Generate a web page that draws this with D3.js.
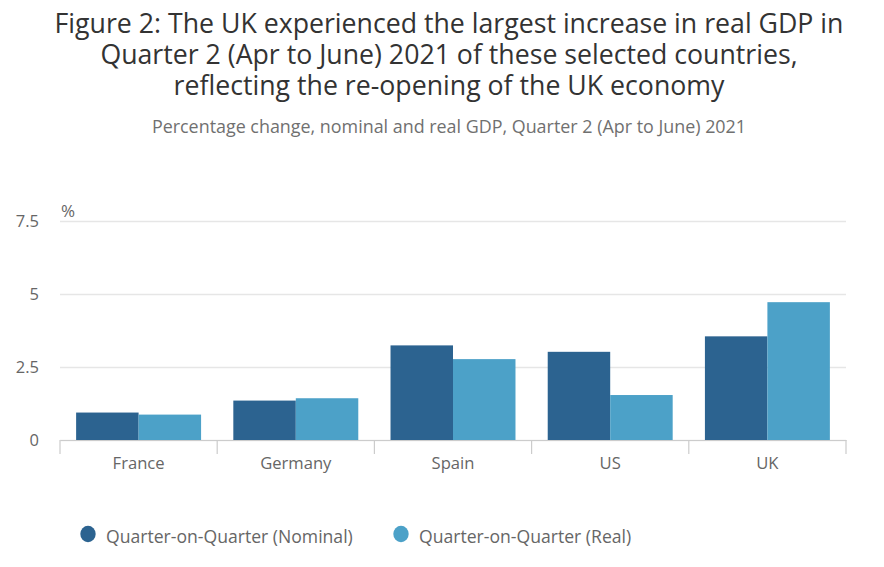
<!DOCTYPE html>
<html><head><meta charset="utf-8">
<script src="https://cdn.jsdelivr.net/npm/d3@7"></script>
<style>body{margin:0;background:#fff;}svg{display:block;font-family:"Open Sans",sans-serif;}</style>
</head><body><svg id="c" width="884" height="567"></svg>
<script>
const countries = ["France","Germany","Spain","US","UK"];
const seriesNames = ["Quarter-on-Quarter (Nominal)","Quarter-on-Quarter (Real)"];
const nominal = [0.94, 1.35, 3.24, 3.02, 3.55];
const real = [0.87, 1.43, 2.77, 1.54, 4.72];
const yTicks = [0, 2.5, 5, 7.5];
const colors = ["#2c6390","#4ca1c8"];
const titleLines = ["Figure 2: The UK experienced the largest increase in real GDP in","Quarter 2 (Apr to June) 2021 of these selected countries,","reflecting the re-opening of the UK economy"];
const subtitle = "Percentage change, nominal and real GDP, Quarter 2 (Apr to June) 2021";

const svg = d3.select("#c");
const m = {l:60, r:38};
const W = 884;
const x0 = d3.scaleBand().domain(countries).range([m.l, W-m.r]).padding(0);
const x1 = d3.scaleBand().domain([0,1]).range([0, x0.bandwidth()]).paddingInner(0).paddingOuter(0.258);
const y = d3.scaleLinear().domain([0,7.5]).range([440, 221]);

const title = svg.append("text").attr("text-anchor","middle")
  .attr("font-size",26.7).attr("fill","#333");
title.selectAll("tspan").data(titleLines).join("tspan")
  .attr("x", 449).attr("y",(d,i)=>33.3+i*31).text(d=>d);
svg.append("text").attr("x",449).attr("y",132.5).attr("text-anchor","middle")
  .attr("font-size",17.9).attr("fill","#707070").text(subtitle);

// grid
const yAxis = d3.axisLeft(y).tickValues(yTicks).tickFormat(d=>d).tickSize(-(W-m.l-m.r)).tickPadding(21);
const gy = svg.append("g").attr("transform",`translate(${m.l},0)`).call(yAxis);
gy.select(".domain").remove();
gy.selectAll(".tick line").attr("stroke","#e6e6e6").attr("stroke-width",1.5);
gy.selectAll(".tick text").attr("font-size",16.5).attr("fill","#666").attr("font-family","Open Sans, sans-serif");
svg.append("text").attr("x",61).attr("y",217).attr("font-size",17).attr("fill","#666").text("%");

// bars
const data = countries.map((c,i)=>({c, v:[nominal[i], real[i]]}));
const g = svg.append("g").selectAll("g").data(data).join("g").attr("transform",d=>`translate(${x0(d.c)},0)`);
g.selectAll("rect").data(d=>d.v.map((v,k)=>({v,k}))).join("rect")
  .attr("x",d=>x1(d.k)).attr("width",x1.bandwidth())
  .attr("y",d=>y(d.v)).attr("height",d=>y(0)-y(d.v)).attr("fill",d=>colors[d.k]);

// x axis
const xAxis = d3.axisBottom(x0).tickSize(0).tickPadding(17.5);
const gx = svg.append("g").attr("transform",`translate(0,440)`).call(xAxis);
gx.select(".domain").attr("stroke","#ccc").attr("stroke-width",1.2);
gx.selectAll(".tick text").attr("font-size",16.6).attr("fill","#666").attr("font-family","Open Sans, sans-serif");
const bounds = countries.map(c=>x0(c)).concat([x0(countries[countries.length-1])+x0.bandwidth()]);
svg.append("g").selectAll("line").data(bounds).join("line")
  .attr("x1",d=>d).attr("x2",d=>d).attr("y1",440).attr("y2",454).attr("stroke","#ccc").attr("stroke-width",1.2);

// legend
const legX = [88, 401];
const lg = svg.append("g").selectAll("g").data(seriesNames).join("g");
lg.append("ellipse").attr("cx",(d,i)=>legX[i]).attr("cy",534).attr("rx",7.7).attr("ry",8.3).attr("fill",(d,i)=>colors[i]);
lg.append("text").attr("x",(d,i)=>legX[i]+18).attr("y",542.5).attr("font-size",17.6).attr("fill","#666").text(d=>d);
</script></body></html>
